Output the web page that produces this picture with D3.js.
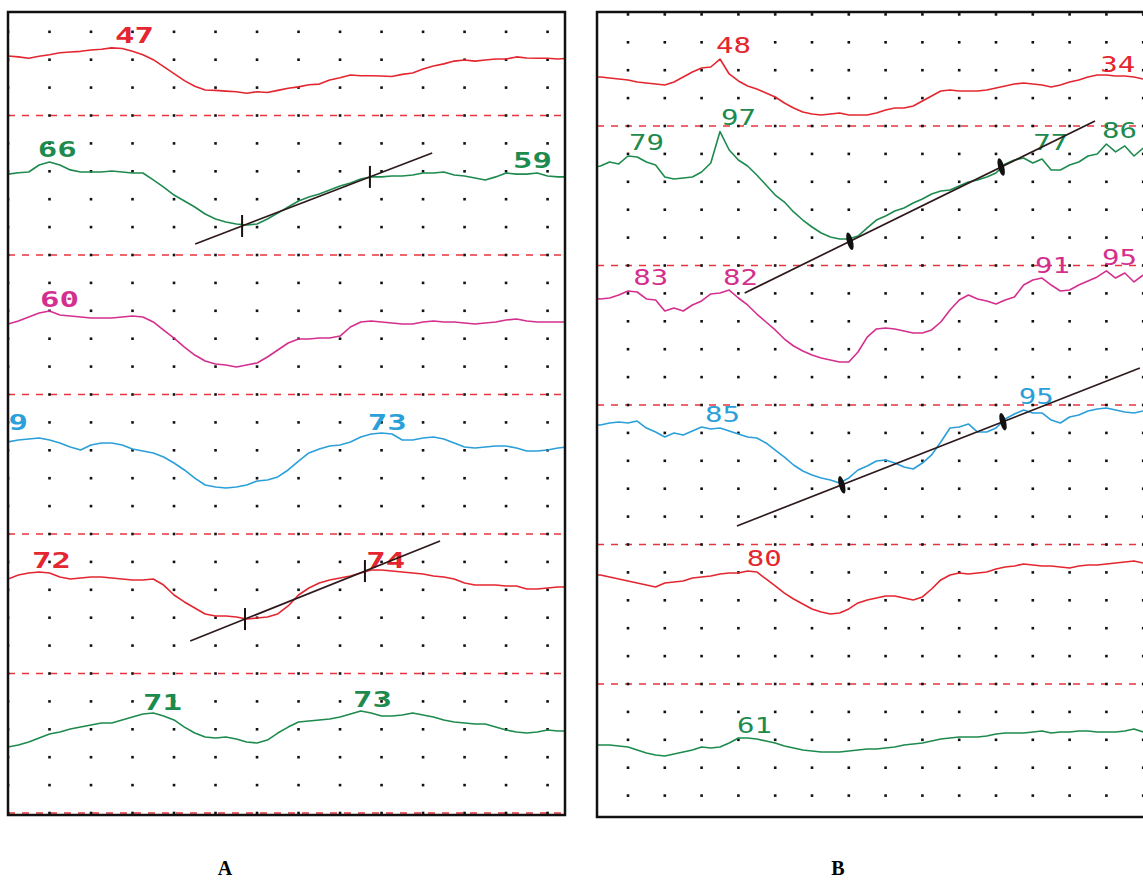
<!DOCTYPE html>
<html>
<head>
<meta charset="utf-8">
<script src="https://cdn.jsdelivr.net/npm/d3@7/dist/d3.min.js"></script>
<style>
  body { margin: 0; background: #fff; }
</style>
</head>
<body>
<svg id="chart" width="1143" height="881"></svg>
<script>
// six channels per panel, top to bottom; values are % of the strip height, one every 2.5 time units
const channels = ["c1", "c2", "c3", "c4", "c5", "c6"];
const channelColors = ["#e3262f", "#1d8a4e", "#d42f8e", "#2b9fd9", "#e3262f", "#1d8a4e"];
const step = 2.5;
const gridLevels = [0, 20, 40, 60, 80];
const gridColsA = d3.range(0, 131, 10);
const gridColsB = d3.range(10, 151, 10);

// panel A
const traceA1 = [42.7,42,41,42.5,43.5,45,45.5,46,47,47.5, 48.5,48,46,43.5,40,35,30,25,21,18.3,
  18,17.5,17,16,17,16.5,18,19.5,20.5,22, 22.5,25.4,27,29,28.5,28.5,28.3,28,29.5,30.5,
  33.3,35.5,37,39,39.8,39,39.8,40.5,40.5,42, 41.2,41,41,40.5,41];
const traceA2 = [58,59,59.5,64.5,66.7,64.5,61,59.5,59.5,59.5, 60.2,59.5,58.8,58.8,53.8,48.7,43,38.7,34.4,29.4,
  25.8,23.7,22.2,21.5,22.2,25.8,30,34.4,38.7,41.6, 43.7,46.6,49.5,51.6,54.5,56,56,56.6,56.6,57.3,
  58.8,58.8,59.5,57.3,56.6,55.2,53.8,56,58.8,58, 58,58.8,56.6,56,56];
const traceA3 = [50.5,52.7,55.6,58.4,59.9,57,56.3,55.6,54.8,54.8, 54.8,55.6,56.3,55.6,52,46.2,40.4,34,28.3,24,
  21.9,21.1,19.7,21.1,22.6,26.9,31.9,36.9,39.8,39.8, 40.5,40.5,41.9,48.4,52,52.7,52,51.3,50.5,50.5,
  52,52.7,52,52,51.3,50.5,51.3,52,53.4,54.1, 52.7,52,52,52,52];
const traceA4 = [66,67.4,68.1,68.8,67.4,65.2,62.4,60.2,63.8,65.2, 65.2,63.8,60.9,59.5,58.1,55.2,50.9,45.9,40.1,35.1,
  33.7,33,33.7,35.1,38,38.7,40.9,45.9,52.3,58.1, 60.9,63.1,63.8,66,69.5,71.7,72.4,71.7,67.4,67.4,
  68.8,69.5,68.1,65.2,62.4,61.6,62.4,63.1,63.1,61.6, 59.5,59.5,60.2,61.6,62.4];
const traceA5 = [67.7,70.6,72,72.8,72,69.2,67.7,68.5,69.2,69.2, 68.5,67.7,67,67,67.7,63.4,56.3,51.3,47,42.7,
  41.2,41.2,40.5,39.1,39.8,40.5,42.7,48.4,56.3,61.3, 64.9,67,68.5,69.9,72,74.2,74.2,73.5,72.8,72,
  71.3,69.9,69.2,67.7,64.9,63.4,63.4,63.4,62.7,62.7, 60.6,60.6,61.3,62,62];
const traceA6 = [47.3,48.7,50.9,53.8,56.6,58.1,60.2,61.6,63.1,64.5, 64.5,66.7,68.8,71,71.7,69.5,66.7,61.6,57.3,54.5,
  53.8,54.5,53,50.9,50.2,52.3,57.3,61.6,65.2,66, 66.7,67.4,68.8,71,73.1,71.7,69.5,69.5,70.3,71.7,
  70.3,68.8,66.7,65.2,64.5,63.8,63.8,61.6,59.5,58.1, 57.3,58.1,59.5,58.8,58.8];

const labelsA = [
  {ch: "c1", text: "47", t: 25.8, v: 52},
  {ch: "c2", text: "66", t: 7.2, v: 70.3},
  {ch: "c2", text: "59", t: 121.7, v: 62.4},
  {ch: "c3", text: "60", t: 7.7, v: 62.7},
  {ch: "c4", text: "9", t: 0.1, v: 74.6},
  {ch: "c4", text: "73", t: 86.7, v: 74.6},
  {ch: "c5", text: "72", t: 5.8, v: 75.6},
  {ch: "c5", text: "74", t: 86.3, v: 75.6},
  {ch: "c6", text: "71", t: 32.5, v: 73.8},
  {ch: "c6", text: "73", t: 83.1, v: 76}
];
const fitsA = [
  {ch: "c2", t0: 45.1, v0: 7.9, t1: 102.2, v1: 73.1, marks: [56.4, 87.2]},
  {ch: "c5", t0: 43.9, v0: 23.3, t1: 104.1, v1: 95, marks: [57.1, 86]}
];

// panel B
const traceB1 = [35.1,35.1,34.4,33.7,33,31.5,30.8,30.1,29.4,31.5, 35.1,38.7,41.6,42.3,48,37.3,32.3,28.7,26.5,23.7,
  20.8,16.5,12.9,10,8.6,7.9,8.6,9.3,7.9,7.9, 7.9,9.3,11.5,12.9,12.9,14.3,17.9,21.5,25.1,25.8,
  25.1,25.1,25.1,25.8,27.2,28.7,30.1,30.8,30.1,29.4, 28,29.4,31.5,33,35.1,36.6,36.6,35.8,35.8,35.1, 33.7];
const traceB2 = [69.9,71.3,74.2,72.8,78.5,77.8,74.2,72,63.4,62, 62.7,63.4,67,73.5,96,82.8,75.6,71.3,64.9,57.7,
  50.5,45.5,38.4,32.6,27.6,23.3,20.4,19,19,21.1, 26.9,32.6,35.5,39.1,41.2,44.8,47.7,51.3,53.4,54.1,
  57,59.9,61.3,63.4,66.3,72.8,75.6,77.1,73.5,76.3, 68.5,68.5,72,74.2,78.5,79.9,87.1,81.4,85.7,78.5, 84.2];
const traceB3 = [76.7,76,76.7,78.9,81.7,81,76,75.3,67.4,69.5, 67.4,71.7,74.6,79.6,80.3,82.4,76.7,71.7,65.2,59.5,
  53.8,47.3,42.3,38.7,35.8,33.7,32.3,30.8,30.8,38, 48.7,54.5,55.2,54.5,53,51.6,51.6,53.8,59.5,68.1,
  75.3,78.9,76,74.6,72.4,75.3,77.4,86,89.6,91, 86,81.7,82.4,86,88.9,91.8,96.1,91,94.6,88.2, 93.2];
const traceB4 = [85.7,85.7,87.1,87.8,87.1,88.5,83.5,80.6,77.1,79.9, 78.5,81.4,84.2,82.8,83.5,81.4,79.2,77.1,76.3,72.8,
  67.7,62.7,57,52.7,49.8,47.7,46.2,44.1,47.7,53.4, 56.3,59.9,60.6,58.4,55.6,54.1,58.4,64.2,73.5,83.5,
  84.2,86.4,80.6,80.6,83.5,90,93.5,96.4,94.3,94.3, 89.2,87.1,91.4,92.8,95.7,97.1,97.8,96.4,95,94.3, 95.7];
const traceB5 = [78.1,78.1,76.7,75.3,73.8,72.4,71,69.5,72.4,73.1, 73.8,76,76.7,77.4,78.9,79.6,79.6,81,80.3,75.3,
  70.3,65.2,60.9,57.3,53.8,51.6,50.2,50.9,53.8,58.1, 60.2,61.6,63.1,63.1,61.6,60.2,62.4,68.1,74.6,78.1,
  79.6,78.9,79.6,80.3,82.4,83.9,84.6,86,85.3,84.6, 84.6,83.9,83.2,84.6,85.3,85.3,86,86.7,87.5,88.2, 86.7];
const traceB6 = [56.3,56.3,56.3,55.6,54.8,52.7,50.5,49.1,48.4,49.8, 51.3,52.7,54.8,54.1,54.8,57.7,61.3,61.3,60.6,59.1,
  57.7,55.6,54.1,52.7,52,51.3,51.3,51.3,52,52.7, 53.4,53.4,54.1,54.8,56.3,57,57.7,59.1,60.6,61.3,
  62,62,62,62.7,64.2,64.9,64.9,64.9,65.6,66.3, 64.9,65.6,65.6,66.3,66.3,65.6,65.6,65.6,66.3,67.7, 65.6];

const labelsB = [
  {ch: "c1", text: "48", t: 33.9, v: 52.3},
  {ch: "c1", text: "34", t: 138.3, v: 38.7},
  {ch: "c2", text: "97", t: 35.3, v: 100.7},
  {ch: "c2", text: "79", t: 10.3, v: 82.8},
  {ch: "c2", text: "77", t: 120.1, v: 82.8},
  {ch: "c2", text: "86", t: 138.8, v: 91.4},
  {ch: "c3", text: "83", t: 11.4, v: 86},
  {ch: "c3", text: "82", t: 35.8, v: 86},
  {ch: "c3", text: "91", t: 120.6, v: 94.6},
  {ch: "c3", text: "95", t: 138.8, v: 100.4},
  {ch: "c4", text: "85", t: 30.9, v: 87.8},
  {ch: "c4", text: "95", t: 116.2, v: 100.7},
  {ch: "c5", text: "80", t: 42.3, v: 84.6},
  {ch: "c6", text: "61", t: 39.6, v: 64.9}
];
const fitsB = [
  {ch: "c2", t0: 41.7, v0: -19.7, t1: 136.9, v1: 103.6, marks: [70.3, 111.4]},
  {ch: "c4", t0: 39.6, v0: 13.3, t1: 149.1, v1: 126.5, marks: [68.1, 111.9]}
];

const svg = d3.select("#chart");
svg.append("rect").attr("width", 1143).attr("height", 881).attr("fill", "#fff");

function drawPanel(cfg) {
  let x = d3.scaleLinear().domain(cfg.xDomain).range(cfg.xRange);
  let band = d3.scaleBand().domain(channels).range(cfg.yRange);
  let level = d3.scaleLinear().domain([0, 100]).range([band.bandwidth(), 0]);
  let yv = (ch, v) => band(ch) + level(v);

  svg.append("clipPath").attr("id", cfg.id + "-clip")
    .append("rect")
    .attr("x", cfg.box[0])
    .attr("y", cfg.box[1])
    .attr("width", cfg.box[2])
    .attr("height", cfg.box[3]);

  let g = svg.append("g").attr("clip-path", `url(#${cfg.id}-clip)`);

  // dashed strip separators (strip bottoms)
  channels.forEach(ch => {
    g.append("line")
      .attr("x1", cfg.box[0]).attr("x2", cfg.box[0] + cfg.box[2])
      .attr("y1", yv(ch, 0)).attr("y2", yv(ch, 0))
      .attr("stroke", "#e8343f")
      .attr("stroke-width", 1.6)
      .attr("stroke-dasharray", "7,7");
  });

  // dot grid
  let dots = [];
  channels.forEach(ch => gridLevels.forEach(lv => cfg.cols.forEach(c => dots.push([c, ch, lv]))));
  g.selectAll(null).data(dots).enter().append("rect")
    .attr("x", d => x(d[0]) - 1.3)
    .attr("y", d => yv(d[1], d[2]) - 1.3)
    .attr("width", 2.6)
    .attr("height", 2.6)
    .attr("fill", "#111");

  // traces
  cfg.traces.forEach((tr, i) => {
    let ch = channels[i];
    let line = d3.line()
      .x((d, k) => x(k * step))
      .y(d => yv(ch, d));
    g.append("path")
      .datum(tr)
      .attr("d", line)
      .attr("fill", "none")
      .attr("stroke", channelColors[i])
      .attr("stroke-width", 1.6)
      .attr("stroke-linejoin", "round");
  });

  // value labels
  g.selectAll(null).data(cfg.labels).enter().append("text")
    .attr("x", d => x(d.t))
    .attr("y", d => yv(d.ch, d.v))
    .attr("fill", d => channelColors[channels.indexOf(d.ch)])
    .attr("font-family", "DejaVu Sans Mono, monospace")
    .attr("font-size", cfg.fontSize)
    .attr("font-weight", cfg.fontWeight)
    .attr("textLength", d => cfg.textLen * d.text.length / 2)
    .attr("lengthAdjust", "spacingAndGlyphs")
    .text(d => d.text);

  // fitted slope lines with their two marks
  cfg.fits.forEach(f => {
    let fv = d3.scaleLinear().domain([f.t0, f.t1]).range([f.v0, f.v1]);
    g.append("line")
      .attr("x1", x(f.t0)).attr("y1", yv(f.ch, f.v0))
      .attr("x2", x(f.t1)).attr("y2", yv(f.ch, f.v1))
      .attr("stroke", "#2e1a1c")
      .attr("stroke-width", 1.7);
    f.marks.forEach(t => {
      let px = x(t), py = yv(f.ch, fv(t));
      if (cfg.markStyle === "bar") {
        g.append("line")
          .attr("x1", px).attr("x2", px)
          .attr("y1", py - 11).attr("y2", py + 11)
          .attr("stroke", "#1a1010")
          .attr("stroke-width", 2);
      } else {
        g.append("ellipse")
          .attr("cx", px).attr("cy", py)
          .attr("rx", 3).attr("ry", 9)
          .attr("transform", `rotate(-15,${px},${py})`)
          .attr("fill", "#111");
      }
    });
  });

  // frame
  svg.append("rect")
    .attr("x", cfg.box[0])
    .attr("y", cfg.box[1])
    .attr("width", cfg.frameW)
    .attr("height", cfg.box[3])
    .attr("fill", "none")
    .attr("stroke", "#111")
    .attr("stroke-width", 2.5);

  svg.append("text")
    .attr("x", cfg.caption[0])
    .attr("y", cfg.caption[1])
    .attr("text-anchor", "middle")
    .attr("font-family", "Liberation Serif, Times New Roman, serif")
    .attr("font-weight", "bold")
    .attr("font-size", 20)
    .text(cfg.id);
}

drawPanel({
  id: "A",
  xDomain: [0, 134.2], xRange: [8, 565],
  yRange: [-24, 813],
  box: [8, 12, 557, 803], frameW: 557,
  cols: gridColsA,
  traces: [traceA1, traceA2, traceA3, traceA4, traceA5, traceA6],
  labels: labelsA, fits: fitsA,
  fontSize: 22, fontWeight: "bold", textLen: 39,
  markStyle: "bar",
  caption: [225, 875]
});

drawPanel({
  id: "B",
  xDomain: [0, 150], xRange: [591.2, 1143.2],
  yRange: [-13.5, 823.5],
  box: [597, 12, 546, 805], frameW: 580,
  cols: gridColsB,
  traces: [traceB1, traceB2, traceB3, traceB4, traceB5, traceB6],
  labels: labelsB, fits: fitsB,
  fontSize: 22, fontWeight: "normal", textLen: 35,
  markStyle: "blob",
  caption: [838, 875]
});
</script>
</body>
</html>
